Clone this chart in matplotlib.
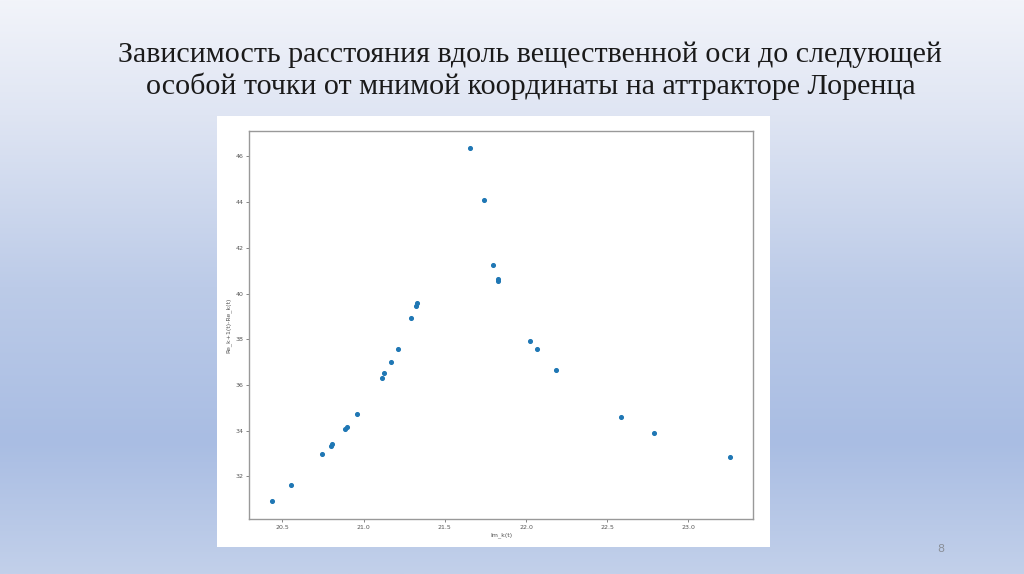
import numpy as np
import matplotlib
matplotlib.use("Agg")
import matplotlib.pyplot as plt
from matplotlib.colors import LinearSegmentedColormap

# данные
im_k = [20.436, 20.553, 20.746, 20.799, 20.805, 20.887, 20.898, 20.96,
        21.111, 21.126, 21.168, 21.21, 21.293, 21.324, 21.33,
        21.656, 21.743, 21.794, 21.825, 21.829,
        22.027, 22.066, 22.185, 22.587, 22.791, 23.257]
d_re = [30.91, 31.64, 32.96, 33.35, 33.41, 34.06, 34.17, 34.73,
        36.32, 36.51, 37.02, 37.57, 38.91, 39.46, 39.59,
        46.35, 44.07, 41.25, 40.65, 40.56,
        37.94, 37.57, 36.64, 34.59, 33.92, 32.83]

title = ("Зависимость расстояния вдоль вещественной оси до следующей\n"
         "особой точки от мнимой координаты на аттракторе Лоренца")

fig = plt.figure(figsize=(10.24, 5.74), dpi=100)

# фон слайда - вертикальный градиент
bg = fig.add_axes([0, 0, 1, 1])
cmap = LinearSegmentedColormap.from_list(
    "slide", [(0.0, "#f2f4fa"), (0.2, "#dfe5f3"), (0.5, "#bccbe8"),
              (0.77, "#a9bde3"), (1.0, "#c2d0ea")])
grad = np.linspace(0, 1, 256).reshape(-1, 1)
bg.imshow(grad, aspect="auto", cmap=cmap, extent=[0, 1, 0, 1], origin="upper")
bg.set_xlim(0, 1)
bg.set_ylim(0, 1)
bg.axis("off")

# белая подложка вставленной картинки
bg.add_patch(plt.Rectangle((0.2124, 0.047), 0.5396, 0.7514,
                           facecolor="white", edgecolor="none"))

fig.text(0.518, 0.877, title, ha="center", va="center",
         family="Liberation Serif", fontsize=21.6, color="#1a1a1a",
         linespacing=1.22)
fig.text(0.919, 0.043, "8", ha="center", va="center", fontsize=8,
         color="#8a8f99")

ax = fig.add_axes([0.2432, 0.0958, 0.4922, 0.6765])
ax.scatter(im_k, d_re, s=7, color="#1f77b4")
ax.set_xticks([20.5, 21.0, 21.5, 22.0, 22.5, 23.0])
ax.set_yticks([32, 34, 36, 38, 40, 42, 44, 46])
ax.tick_params(labelsize=4.5, length=2, width=0.5, pad=2,
               colors="#555555")
for s in ax.spines.values():
    s.set_color("#999999")
    s.set_linewidth(1.0)
ax.set_xlabel("Im_k(t)", fontsize=4.5, color="#555555", labelpad=2)
ax.set_ylabel("Re_k+1(t)-Re_k(t)", fontsize=4.5, color="#555555", labelpad=3)

fig.savefig("out.png", dpi=100)
